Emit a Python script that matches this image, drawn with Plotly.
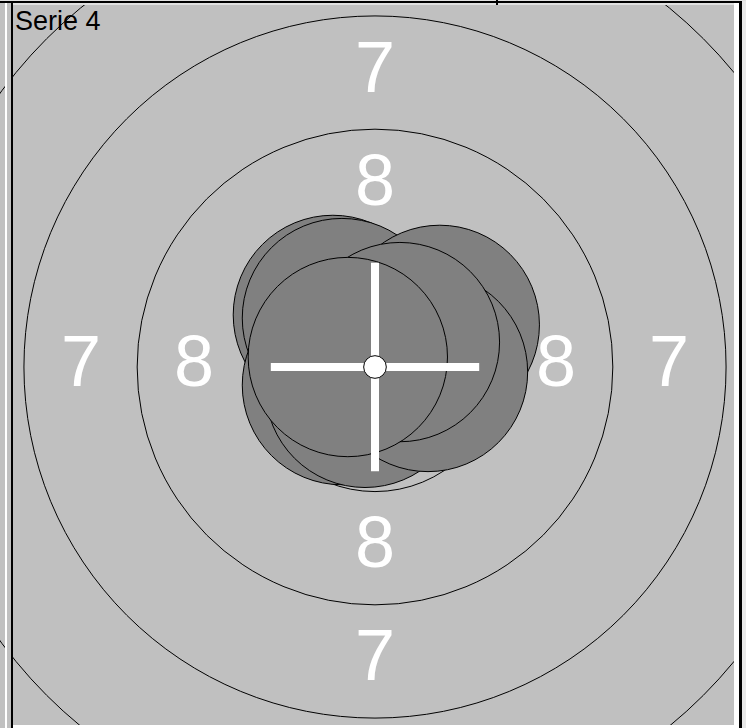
import plotly.graph_objects as go

# ---- data (10 m air-rifle style target, units = mm) ----
ring_scores = [10, 9, 8, 7, 6, 5]
ring_radii = [0.25, 2.75, 5.25, 7.75, 10.25, 12.75]
label_scores = ["8", "7"]
label_radii = [4.0, 6.5]
shot_x = [-0.93, -0.73, -0.73, -0.22, 1.43, 1.17, 0.55, -0.60]
shot_y = [1.15, 1.08, -0.40, -0.46, 0.93, -0.11, 0.55, 0.22]
shot_diameter = 4.4
cross_half = 2.3
series_name = "Serie 4"

# ---- layout geometry ----
W, H = 746, 728
k = 45.3            # px per mm
cx_px, cy_px = 375, 367

BG = "#C0C0C0"
SHOT = "#808080"

shapes = []
for s, r in zip(ring_scores, ring_radii):
    if s == 10:
        continue
    shapes.append(dict(type="circle", xref="x", yref="y", x0=-r, y0=-r, x1=r, y1=r,
                       line=dict(color="black", width=1), fillcolor="rgba(0,0,0,0)"))
sr = shot_diameter / 2
for x, y in zip(shot_x, shot_y):
    shapes.append(dict(type="circle", xref="x", yref="y", x0=x - sr, y0=y - sr, x1=x + sr, y1=y + sr,
                       line=dict(color="black", width=1), fillcolor=SHOT))
shapes.append(dict(type="line", xref="x", yref="y", x0=-cross_half, y0=0, x1=cross_half, y1=0,
                   line=dict(color="white", width=8)))
shapes.append(dict(type="line", xref="x", yref="y", x0=0, y0=-cross_half, x1=0, y1=cross_half,
                   line=dict(color="white", width=8)))
r10 = ring_radii[0]
shapes.append(dict(type="circle", xref="x", yref="y", x0=-r10, y0=-r10, x1=r10, y1=r10,
                   line=dict(color="black", width=1), fillcolor="white"))

def prect(x0, y0, x1, y1, color):
    shapes.append(dict(type="rect", xref="paper", yref="paper",
                       x0=x0 / W, x1=x1 / W, y0=1 - y1 / H, y1=1 - y0 / H,
                       line=dict(width=0), fillcolor=color))

prect(5, 0, 7, H, "white")
prect(7, 0, 11, H, BG)
prect(11, 0, 13, H, "black")
prect(734, 0, 739, H, "white")
prect(739, 0, 742, H, "black")
prect(742, 0, W, H, "#E8E8E8")
prect(13, 725, 734, H, "white")
prect(0, 0, W, 1, "#E0E0E0")
prect(0, 1, 742, 3, "black")
prect(13, 3, 734, 5, "#E0E0E0")
prect(496, 0, 498, 5, "black")

annotations = []
for lab, r in zip(label_scores, label_radii):
    for (ax, ay) in [(0, r), (0, -r), (-r, 0), (r, 0)]:
        annotations.append(dict(x=ax, y=ay, xref="x", yref="y", text=lab, showarrow=False,
                                xanchor="center", yanchor="middle", yshift=6,
                                font=dict(family="Liberation Sans, Arial", size=72, color="white")))
annotations.append(dict(x=13 / W, y=1 - 4 / H, xref="paper", yref="paper", text=series_name,
                        showarrow=False, xanchor="left", yanchor="top",
                        font=dict(family="Liberation Sans, Arial", size=27, color="black")))

fig = go.Figure()
fig.add_trace(go.Scatter(x=[0], y=[0], mode="markers", marker=dict(opacity=0), hoverinfo="skip",
                         showlegend=False))
fig.update_layout(
    width=W, height=H, margin=dict(l=0, r=0, t=0, b=0),
    paper_bgcolor=BG, plot_bgcolor=BG,
    xaxis=dict(range=[-cx_px / k, (W - cx_px) / k], visible=False, fixedrange=True),
    yaxis=dict(range=[-(H - cy_px) / k, cy_px / k], visible=False, fixedrange=True),
    shapes=shapes, annotations=annotations, showlegend=False,
)
fig.write_html("out.html", config={"displayModeBar": False},
               post_script="document.body.style.margin='0';document.body.style.overflow='hidden';")
